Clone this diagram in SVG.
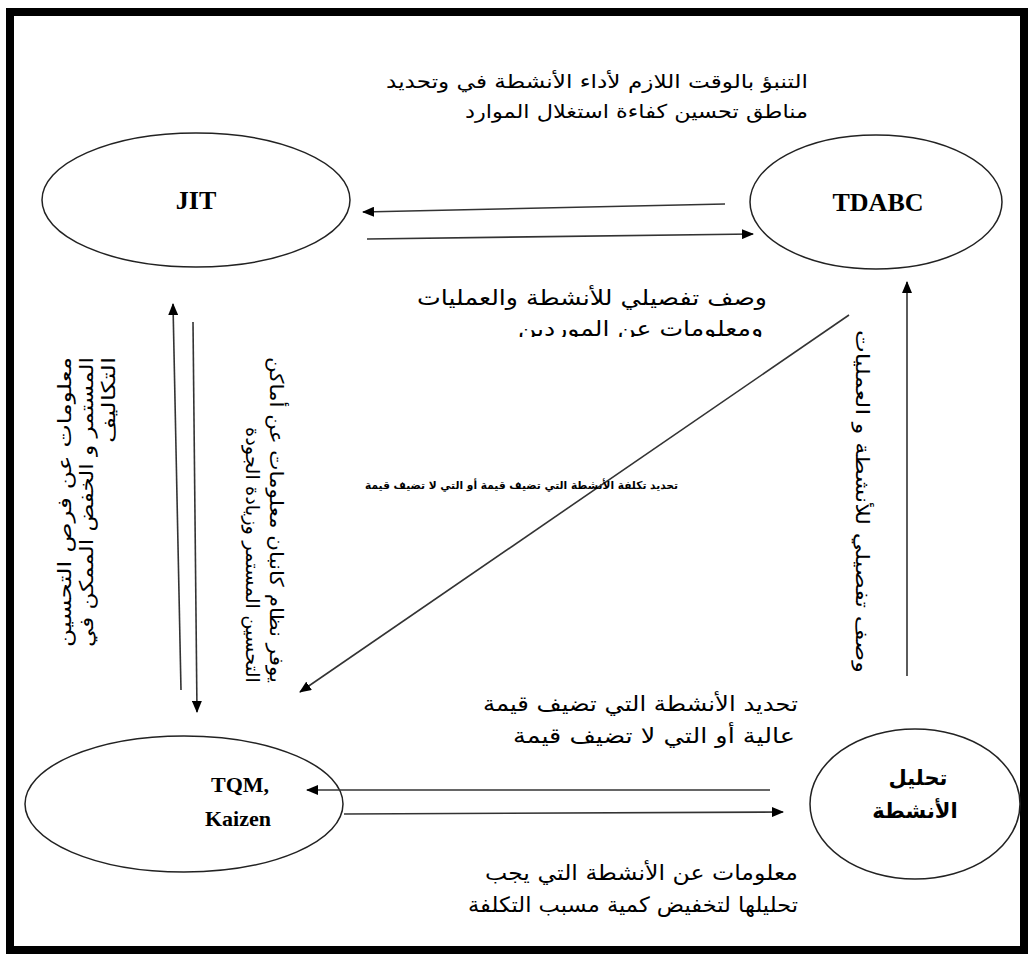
<svg xmlns="http://www.w3.org/2000/svg" width="1031" height="954" viewBox="0 0 1031 954">
<style>
.node{fill:none;stroke:#222;stroke-width:1.5}
.lbl{font-family:"Liberation Serif",serif;font-weight:bold;font-size:26px;fill:#000;text-anchor:middle}
.ar{font-family:"DejaVu Sans",sans-serif;font-size:19px;fill:#000;text-anchor:end}
.arb{font-family:"DejaVu Sans",sans-serif;font-size:21px;font-weight:bold;fill:#000;text-anchor:middle}
.conn line{stroke:#333;stroke-width:1.6}
</style>
<defs>
<marker id="ah" viewBox="0 0 12 10" refX="11" refY="5" markerWidth="12" markerHeight="10" markerUnits="userSpaceOnUse" orient="auto">
<path d="M0,0 L12,5 L0,10 Z" fill="#000"/>
</marker>
<clipPath id="cut"><rect x="380" y="312" width="420" height="25"/></clipPath>
</defs>
<rect x="0" y="0" width="1031" height="954" fill="#fff"/>
<rect x="10" y="12" width="1014" height="938" fill="none" stroke="#000" stroke-width="8"/>

<g id="jit"><ellipse class="node" cx="196" cy="200" rx="154" ry="67"/><text class="lbl" x="196" y="209">JIT</text></g>
<g id="tdabc"><ellipse class="node" cx="876" cy="202" rx="126" ry="67"/><text class="lbl" x="878" y="211">TDABC</text></g>
<g id="tqm"><ellipse class="node" cx="184" cy="804" rx="159" ry="68"/><text class="lbl" x="240" y="792" style="font-size:22px">TQM,</text><text class="lbl" x="238" y="826" style="font-size:22px">Kaizen</text></g>
<g id="analysis"><ellipse class="node" cx="915" cy="804" rx="105" ry="75"/><text class="arb" x="918" y="785">تحليل</text><text class="arb" x="915" y="818">الأنشطة</text></g>

<g id="connectors" class="conn">
<line x1="725" y1="204" x2="363" y2="212" marker-end="url(#ah)"/>
<line x1="367" y1="239" x2="753" y2="234" marker-end="url(#ah)"/>
<line x1="181" y1="690" x2="173" y2="304" marker-end="url(#ah)"/>
<line x1="193" y1="322" x2="197" y2="712" marker-end="url(#ah)"/>
<line x1="849" y1="315" x2="300" y2="692" marker-end="url(#ah)"/>
<line x1="907" y1="676" x2="907" y2="282" marker-end="url(#ah)"/>
<line x1="770" y1="790" x2="307" y2="790" marker-end="url(#ah)"/>
<line x1="344" y1="814" x2="783" y2="812" marker-end="url(#ah)"/>
</g>

<g id="labels">
<text class="ar" x="808" y="88" textLength="422" lengthAdjust="spacingAndGlyphs">التنبؤ بالوقت اللازم لأداء الأنشطة في وتحديد</text>
<text class="ar" x="808" y="118" textLength="343" lengthAdjust="spacingAndGlyphs">مناطق تحسين كفاءة استغلال الموارد</text>

<text class="ar" x="767" y="305" textLength="350" lengthAdjust="spacingAndGlyphs" style="font-size:21px">وصف تفصيلي للأنشطة والعمليات</text>
<text class="ar" x="763" y="336" textLength="245" lengthAdjust="spacingAndGlyphs" clip-path="url(#cut)" style="font-size:21px">ومعلومات عن الموردين</text>

<g transform="translate(71,357) rotate(-90)">
<text class="ar" x="0" y="0" textLength="290" lengthAdjust="spacingAndGlyphs">معلومات عن فرص التحسين</text>
<text class="ar" x="0" y="22" textLength="290" lengthAdjust="spacingAndGlyphs">المستمر و الخفض الممكن في</text>
<text class="ar" x="0" y="44" textLength="86" lengthAdjust="spacingAndGlyphs">التكاليف</text>
</g>

<g transform="translate(270,683) rotate(90)">
<text class="ar" x="0" y="0" textLength="326" lengthAdjust="spacingAndGlyphs">يوفر نظام كانبان معلومات عن أماكن</text>
<text class="ar" x="0" y="24" textLength="256" lengthAdjust="spacingAndGlyphs">التحسين المستمر وزيادة الجودة</text>
</g>

<g transform="translate(856,673) rotate(90)">
<text class="ar" x="0" y="0" textLength="343" lengthAdjust="spacingAndGlyphs">وصف تفصيلي للأنشطة و العمليات</text>
</g>

<text class="ar" x="678" y="489" textLength="313" lengthAdjust="spacingAndGlyphs" style="font-size:11px;font-weight:bold">تحديد تكلفة الأنشطة التي تضيف قيمة أو التي لا تضيف قيمة</text>

<text class="ar" x="798" y="711" textLength="315" lengthAdjust="spacingAndGlyphs" style="font-size:21px">تحديد الأنشطة التي تضيف قيمة</text>
<text class="ar" x="795" y="743" textLength="282" lengthAdjust="spacingAndGlyphs" style="font-size:21px">عالية أو التي لا تضيف قيمة</text>

<text class="ar" x="798" y="880" textLength="313" lengthAdjust="spacingAndGlyphs" style="font-size:21px">معلومات عن الأنشطة التي يجب</text>
<text class="ar" x="798" y="912" textLength="330" lengthAdjust="spacingAndGlyphs" style="font-size:21px">تحليلها لتخفيض كمية مسبب التكلفة</text>
</g>
</svg>
